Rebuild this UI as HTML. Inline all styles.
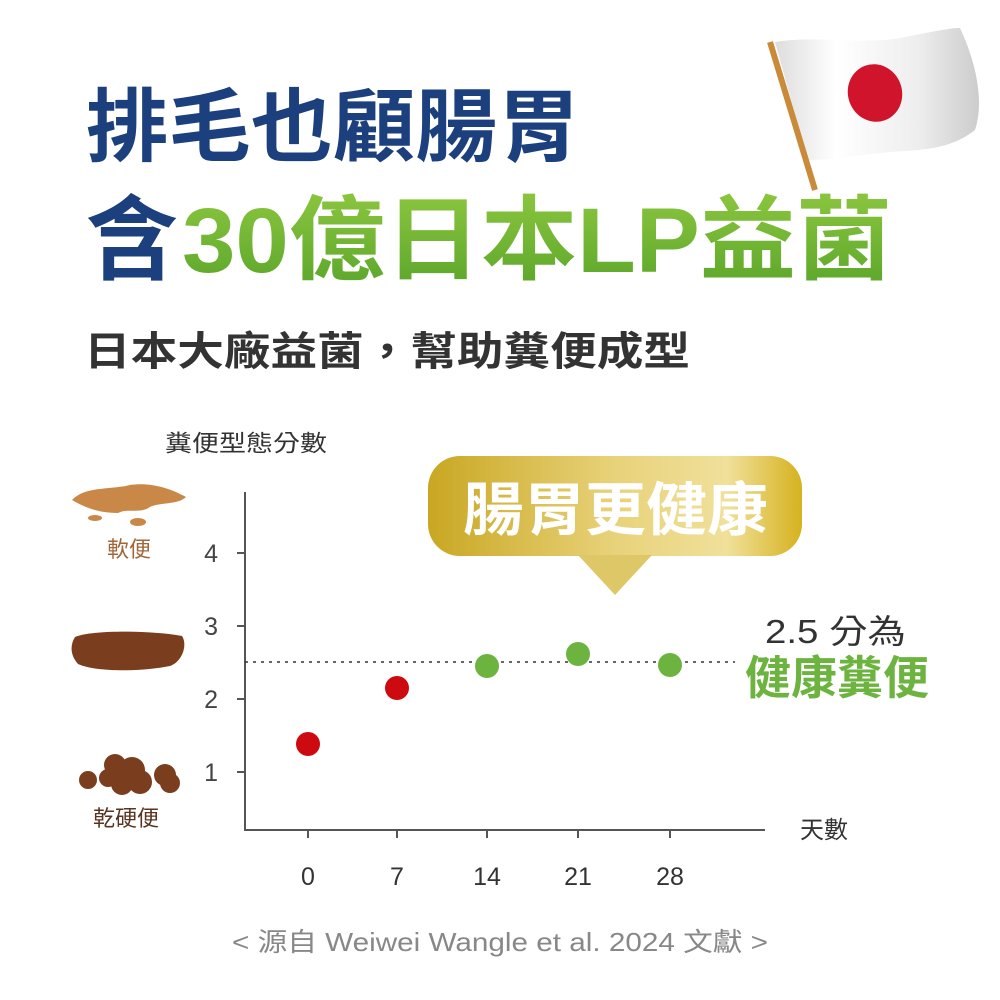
<!DOCTYPE html>
<html><head><meta charset="utf-8"><style>
html,body{margin:0;padding:0;background:#fff;}
svg{display:block}
text{font-family:"Liberation Sans","Noto Sans CJK TC",sans-serif;}
</style></head><body>
<svg width="1000" height="1000" viewBox="0 0 1000 1000" xmlns="http://www.w3.org/2000/svg">
<defs>
<linearGradient id="gr" x1="0" y1="0" x2="0" y2="1"><stop offset="0" stop-color="#8cc63f"/><stop offset="1" stop-color="#5aa52a"/></linearGradient>
<linearGradient id="gold" x1="0" y1="0" x2="1" y2="0"><stop offset="0" stop-color="#c9a722"/><stop offset="0.5" stop-color="#e8d27a"/><stop offset="0.8" stop-color="#f0e09a"/><stop offset="1" stop-color="#d6b21e"/></linearGradient>
<linearGradient id="flag" x1="0" y1="0" x2="1" y2="0"><stop offset="0" stop-color="#ddd"/><stop offset="0.3" stop-color="#fff"/><stop offset="0.7" stop-color="#eee"/><stop offset="1" stop-color="#ccc"/></linearGradient>
</defs>
<!-- flag -->
<path d="M775,42 C820,35 860,45 900,38 C930,32 950,28 960,28 C975,60 985,100 975,130 C950,150 920,150 890,152 C860,155 830,160 808,160 Z" fill="url(#flag)"/>
<ellipse cx="875" cy="93" rx="27" ry="29" fill="#d0142b" transform="rotate(-20 875 93)"/>
<line x1="770" y1="42" x2="815" y2="190" stroke="#c98a3a" stroke-width="6"/>
<!-- titles -->
<text x="86" y="155" font-size="80" font-weight="bold" fill="#1c3f7d" textLength="494" lengthAdjust="spacingAndGlyphs">排毛也顧腸胃</text>
<text x="86" y="272" font-size="92" font-weight="bold" fill="#1c3f7d">含</text>
<text x="182" y="272" font-size="92" font-weight="bold" fill="url(#gr)" textLength="710" lengthAdjust="spacingAndGlyphs">30億日本LP益菌</text>
<text x="84" y="365" font-size="40" font-weight="bold" fill="#333" textLength="606" lengthAdjust="spacingAndGlyphs">日本大廠益菌，幫助糞便成型</text>
<!-- axis label -->
<text x="165" y="451" font-size="23" fill="#333" textLength="162" lengthAdjust="spacingAndGlyphs">糞便型態分數</text>
<!-- stool icons -->
<path d="M72,500 C85,486 110,490 130,485 C150,482 170,488 186,497 C178,505 160,502 150,507 C140,514 128,508 118,513 C100,513 85,508 72,500 Z" fill="#c98848"/>
<ellipse cx="95" cy="518" rx="7" ry="3" fill="#c98848"/><ellipse cx="138" cy="522" rx="8" ry="4" fill="#c98848"/>
<text x="107" y="557" font-size="22" fill="#a0673a">軟便</text>
<path d="M75,637 C90,630 150,630 182,636 C188,645 182,662 170,666 C140,672 95,672 78,664 C70,655 70,645 75,637 Z" fill="#7a3e1e"/>
<g fill="#7a3e1e"><circle cx="88" cy="780" r="9"/><circle cx="115" cy="765" r="11"/><circle cx="132" cy="770" r="13"/><circle cx="140" cy="782" r="12"/><circle cx="122" cy="784" r="11"/><circle cx="165" cy="775" r="11"/><circle cx="170" cy="783" r="10"/><circle cx="108" cy="778" r="9"/></g>
<text x="93" y="826" font-size="22" fill="#5a3420">乾硬便</text>
<!-- axes -->
<g stroke="#555" stroke-width="2" fill="none">
<path d="M245,492 V830 H765"/>
<path d="M237,553 H245 M237,626 H245 M237,699 H245 M237,772 H245"/>
<path d="M308,830 V838 M397,830 V838 M487,830 V838 M578,830 V838 M670,830 V838"/>
</g>
<line x1="245" y1="662" x2="735" y2="662" stroke="#333" stroke-width="1.5" stroke-dasharray="3,5"/>
<g font-size="25" fill="#444" text-anchor="end">
<text x="218" y="562">4</text><text x="218" y="635">3</text><text x="218" y="708">2</text><text x="218" y="781">1</text>
</g>
<g font-size="25" fill="#333" text-anchor="middle">
<text x="308" y="885">0</text><text x="397" y="885">7</text><text x="487" y="885">14</text><text x="578" y="885">21</text><text x="670" y="885">28</text>
</g>
<text x="800" y="838" font-size="24" fill="#333">天數</text>
<!-- points -->
<circle cx="308" cy="744" r="12" fill="#cc0a0f"/>
<circle cx="397" cy="688" r="12" fill="#cc0a0f"/>
<circle cx="487" cy="666" r="12" fill="#6db33f"/>
<circle cx="578" cy="654" r="12" fill="#6db33f"/>
<circle cx="670" cy="665" r="12" fill="#6db33f"/>
<!-- bubble -->
<rect x="428" y="456" width="374" height="100" rx="32" fill="url(#gold)"/>
<path d="M578,555 L652,555 L615,595 Z" fill="#ddc766"/>
<text x="463" y="530" font-size="58" font-weight="bold" fill="#fff" textLength="305" lengthAdjust="spacingAndGlyphs">腸胃更健康</text>
<!-- annotation -->
<text x="765" y="643" font-size="33" fill="#333" textLength="141" lengthAdjust="spacingAndGlyphs">2.5 分為</text>
<text x="745" y="694" font-size="46" font-weight="bold" fill="#6db33f" textLength="184" lengthAdjust="spacingAndGlyphs">健康糞便</text>
<!-- source -->
<text x="232" y="951" font-size="26" fill="#888" textLength="536" lengthAdjust="spacingAndGlyphs">&lt; 源自 Weiwei Wangle et al. 2024 文獻 &gt;</text>
</svg>
</body></html>
